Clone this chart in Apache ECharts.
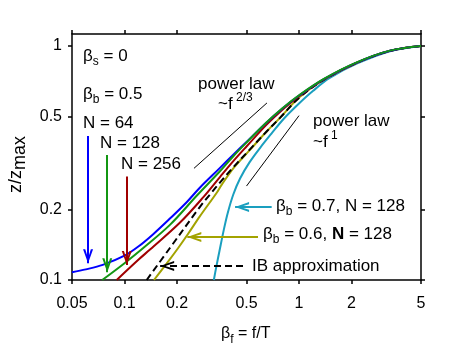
<!DOCTYPE html>
<html>
<head>
<meta charset="utf-8">
<script src="https://cdn.jsdelivr.net/npm/echarts@6/dist/echarts.min.js"></script>
<style>
  html, body { margin: 0; padding: 0; background: #fff; }
  #chart { width: 471px; height: 350px; }
</style>
</head>
<body>
<div id="chart"></div>
<script>
// axis ticks
const xTicks = [0.05, 0.1, 0.2, 0.5, 1, 2, 5];
const yTicks = [0.1, 0.2, 0.5, 1];

// curves: [beta_f, z/zmax]
const blueN64 = [[0.05, 0.108], [0.06, 0.111], [0.075, 0.116], [0.1, 0.127], [0.12, 0.139], [0.146, 0.157], [0.182, 0.183], [0.227, 0.215], [0.27, 0.248], [0.35, 0.3], [0.42, 0.343], [0.5, 0.389], [0.65, 0.47], [0.8, 0.539], [1.0, 0.614], [1.38, 0.72], [2.14, 0.849], [3.32, 0.954], [5, 1]];
const greenN128 = [[0.0745, 0.1], [0.1, 0.118], [0.128, 0.137], [0.182, 0.172], [0.259, 0.229], [0.35, 0.29], [0.42, 0.338], [0.5, 0.387], [0.65, 0.471], [0.8, 0.541], [1.0, 0.616], [1.38, 0.722], [2.14, 0.851], [3.32, 0.955], [5, 1]];
const redN256 = [[0.0902, 0.1], [0.12, 0.122], [0.14, 0.135], [0.208, 0.176], [0.283, 0.226], [0.353, 0.276], [0.42, 0.322], [0.5, 0.372], [0.65, 0.46], [0.8, 0.533], [1.0, 0.61], [1.38, 0.718], [2.14, 0.848], [3.32, 0.954], [5, 1]];
const ibApprox = [[0.134, 0.1], [0.182, 0.137], [0.27, 0.205], [0.309, 0.232], [0.36, 0.266], [0.42, 0.303], [0.52, 0.36], [0.65, 0.43], [0.78, 0.494], [1.0, 0.6], [1.38, 0.715], [2.14, 0.847], [3.32, 0.953], [5, 1]];
const oliveB06 = [[0.1475, 0.1], [0.175, 0.118], [0.203, 0.137], [0.232, 0.158], [0.27, 0.187], [0.3375, 0.236], [0.36, 0.255], [0.42, 0.3], [0.52, 0.358], [0.65, 0.43], [0.78, 0.494], [1.0, 0.602], [1.38, 0.716], [2.14, 0.847], [3.32, 0.953], [5, 1]];
const tealB07 = [[0.325, 0.1], [0.335, 0.113], [0.35, 0.133], [0.37, 0.163], [0.39, 0.193], [0.42, 0.232], [0.46, 0.272], [0.52, 0.318], [0.6, 0.368], [0.7, 0.425], [0.82, 0.49], [1.0, 0.568], [1.2, 0.642], [1.5, 0.73], [2.14, 0.84], [3.32, 0.95], [5, 1]];

// power law guide segments
const lawTwoThirds = [[0.25, 0.30], [0.655, 0.571]];
const lawOne = [[0.5, 0.252], [1.0, 0.504]];

// arrows: [from, to]
const arrowBlue = [[0.0618, 0.412], [0.0618, 0.118]];
const arrowGreen = [[0.0796, 0.342], [0.0796, 0.108]];
const arrowRed = [[0.103, 0.277], [0.103, 0.116]];
const arrowTeal = [[0.697, 0.205], [0.43, 0.205]];
const arrowOlive = [[0.582, 0.1526], [0.229, 0.1526]];
const arrowIB = [[0.4775, 0.1149], [0.16, 0.1149]];

const FONT = '"Liberation Sans", Arial, sans-serif';
const headPath = 'path://M5,0 L10,14 L7.8,14 L5,5 L2.2,14 L0,14 Z';

const chartDom = document.getElementById('chart');
const myChart = echarts.init(chartDom, null, { renderer: 'canvas' });

const measure = document.createElement('canvas').getContext('2d');

// lay out text pieces with sub/superscripts: [text, size, dy, weight]
function pieces(x, y, parts, color) {
  const out = [];
  let cx = x;
  parts.forEach(p => {
    const font = (p[3] || 'normal') + ' ' + p[1] + 'px ' + FONT;
    out.push({
      type: 'text', x: cx, y: y + (p[2] || 0), silent: true,
      style: { text: p[0], font: font, fill: color || '#000', align: 'left', verticalAlign: 'middle' }
    });
    measure.font = font;
    cx += measure.measureText(p[0]).width;
  });
  return out;
}

function curve(name, data, color, arrowSeg, dashed) {
  const s = {
    name: name,
    type: 'line',
    data: data,
    smooth: 0.35,
    symbol: 'none',
    lineStyle: { color: color, width: 2, type: dashed ? [7, 4] : 'solid' },
    itemStyle: { color: color }
  };
  if (arrowSeg) {
    s.markLine = {
      silent: true,
      symbol: ['none', headPath],
      symbolSize: [10, 14],
      symbolOffset: [[0, 0], [0, 7]],
      label: { show: false },
      lineStyle: { color: color, width: 2, type: dashed ? [7, 4] : 'solid' },
      data: [[{ coord: arrowSeg[0] }, { coord: arrowSeg[1] }]]
    };
  }
  return s;
}

function guide(data) {
  return {
    type: 'line', data: data, symbol: 'none',
    lineStyle: { color: '#000', width: 1 }
  };
}

function xAxisOf(pos, showLabel) {
  return {
    type: 'log', logBase: 10, min: 0.05, max: 5, position: pos,
    axisLine: { onZero: false, lineStyle: { color: '#000', width: 1.5 } },
    axisTick: { show: true, inside: false, length: 4, customValues: xTicks, lineStyle: { color: '#000', width: 1.5 } },
    axisLabel: { show: showLabel, customValues: xTicks, margin: 16, fontSize: 16, fontFamily: FONT, color: '#000',
      formatter: v => String(+(+v).toPrecision(3)) },
    minorTick: { show: false },
    splitLine: { show: false }
  };
}

function yAxisOf(pos, showLabel) {
  return {
    type: 'log', logBase: 10, min: 0.1, max: 1.125, position: pos,
    axisLine: { onZero: false, lineStyle: { color: '#000', width: 1.5 } },
    axisTick: { show: true, inside: false, length: 4, customValues: yTicks, lineStyle: { color: '#000', width: 1.5 } },
    axisLabel: { show: showLabel, customValues: yTicks, margin: 10, fontSize: 16, fontFamily: FONT, color: '#000',
      formatter: v => String(+(+v).toPrecision(3)) },
    minorTick: { show: false },
    splitLine: { show: false }
  };
}

const texts = [].concat(
  pieces(83, 56, [['β', 17], ['s', 12, 6], [' = 0', 17]]),
  pieces(83, 94, [['β', 17], ['b', 12, 6], [' = 0.5', 17]]),
  pieces(83, 123, [['N = 64', 17]]),
  pieces(100, 143, [['N = 128', 17]]),
  pieces(121, 164, [['N = 256', 17]]),
  pieces(198, 84, [['power law', 17]]),
  pieces(218, 104, [['~f', 17], [' 2/3', 12, -6]]),
  pieces(313, 121, [['power law', 17]]),
  pieces(313, 142, [['~f', 17], [' 1', 12, -6]]),
  pieces(276, 206, [['β', 17], ['b', 12, 6], [' = 0.7, N = 128', 17]]),
  pieces(263, 234, [['β', 17], ['b', 12, 6], [' = 0.6, ', 17], ['N', 17, 0, 'bold'], [' = 128', 17]]),
  pieces(252, 266, [['IB approximation', 17]]),
  pieces(221, 334, [['β', 16], ['f', 12, 6], [' = f/T', 16]])
);

const yName = {
  type: 'group', x: 16, y: 193, rotation: Math.PI / 2, silent: true,
  children: pieces(0, 0, [['z/z', 18], ['max', 18, 4]])
};

const option = {
  animation: false,
  backgroundColor: '#fff',
  grid: { left: 72, right: 50, top: 34, bottom: 70, containLabel: false },
  xAxis: [xAxisOf('bottom', true), xAxisOf('top', false)],
  yAxis: [yAxisOf('left', true), yAxisOf('right', false)],
  series: [
    guide(lawTwoThirds),
    guide(lawOne),
    curve('βb = 0.7, N = 128', tealB07, '#1a9fbf', arrowTeal),
    curve('βb = 0.6, N = 128', oliveB06, '#a3a300', arrowOlive),
    curve('IB approximation', ibApprox, '#000', arrowIB, true),
    curve('N = 256', redN256, '#a00000', arrowRed),
    curve('N = 64', blueN64, '#0000ff', arrowBlue),
    curve('N = 128', greenN128, '#139613', arrowGreen)
  ],
  graphic: texts.concat([yName])
};

myChart.setOption(option);
</script>
</body>
</html>
